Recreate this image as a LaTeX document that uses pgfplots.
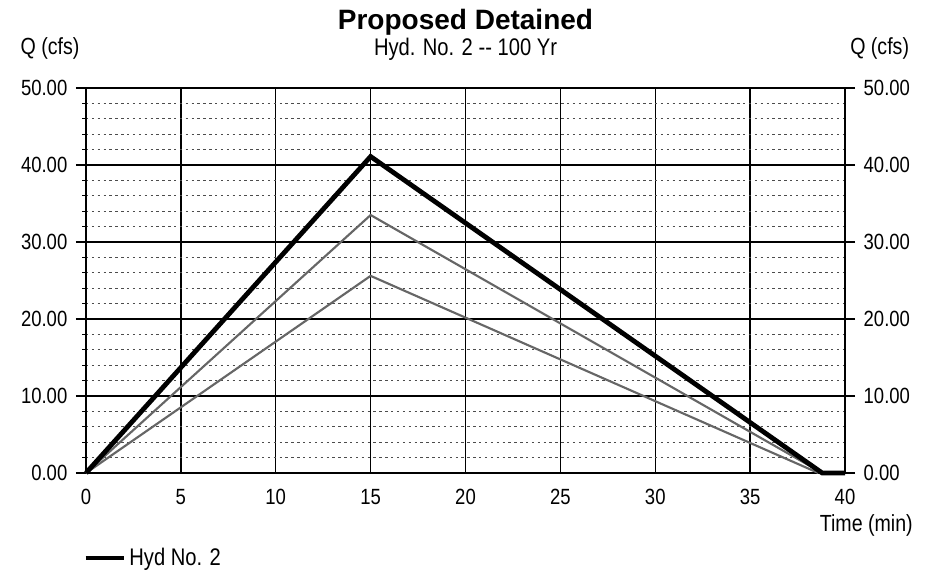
\documentclass[border=0pt]{standalone}
\usepackage{fontspec}
\setmainfont{Liberation Sans}[FakeStretch=0.84]
\newfontfamily\titlefont{Liberation Sans}
\usepackage{pgfplots}
\pgfplotsset{compat=1.18}
\begin{document}
\begin{tikzpicture}
\useasboundingbox (-64.5pt,-75.75pt) rectangle (633pt,354.75pt);
\pgfplotsset{
  common/.style={
    at={(0pt,0pt)}, anchor=south west,
    scale only axis, width=569.25pt, height=288.75pt,
    xmin=0, xmax=40, ymin=0, ymax=50,
    ytick={0,10,...,50},
    /pgf/number format/assume math mode=true,
    tick label style={font=\fontsize{16.5}{19}\selectfont},
  }
}
\begin{axis}[common,
  xtick={0,5,...,40},
  xticklabel style={yshift=-1pt},
  x tick style={draw=none},
  yticklabel={\pgfmathprintnumber[fixed,fixed zerofill,precision=2,assume math mode=true]{\tick}},
  yticklabel style={xshift=-3pt},
  tick align=outside,
  major tick length=7.5pt,
  y tick style={line width=1pt, black},
  minor y tick num=4,
  grid=both,
  major grid style={line width=1pt, black},
  minor grid style={line width=0.6pt, black!70, dash pattern=on 1.8pt off 2.6pt},
  axis line style={line width=1pt},
  ytick pos=left,
  legend style={at={(-0.004,-0.221)}, anchor=west, draw=none, fill=none,
    font=\fontsize{18}{20}\selectfont, inner sep=0pt},
  legend image code/.code={\draw[#1] (0pt,0pt) -- (29pt,0pt);},
  clip=false,
]
\addplot[black!60, line width=1.6pt, forget plot] coordinates {(0,0) (15,25.6) (38.6,0)};
\addplot[black!60, line width=1.6pt, forget plot] coordinates {(0,0) (15,33.5) (38.8,0)};
\addplot[black, line width=3.6pt] coordinates {(0,0) (15,41.1) (38.8,0) (40,0)};
\addlegendentry{Hyd No. 2}
\node[font=\titlefont\bfseries\fontsize{21}{24}\selectfont] at (rel axis cs:0.5,1) [yshift=49pt] {Proposed Detained};
\node[font=\fontsize{18}{20}\selectfont] at (rel axis cs:0.5,1) [yshift=29pt] {Hyd. No. 2 -{}- 100 Yr};
\node[font=\fontsize{17.5}{20}\selectfont] at (rel axis cs:0,1) [xshift=-27pt, yshift=30pt] {Q (cfs)};
\node[font=\fontsize{17.5}{20}\selectfont] at (rel axis cs:1,1) [xshift=26pt, yshift=30pt] {Q (cfs)};
\node[font=\fontsize{17.5}{20}\selectfont] at (rel axis cs:1,0) [xshift=16pt, yshift=-39pt] {Time (min)};
\end{axis}
\begin{axis}[common,
  axis x line=none,
  axis y line*=right,
  yticklabel={\pgfmathprintnumber[fixed,fixed zerofill,precision=2,assume math mode=true]{\tick}},
  yticklabel style={xshift=3pt},
  tick align=outside,
  major tick length=7.5pt,
  y tick style={line width=1pt, black},
  axis line style={line width=1pt, -},
]
\addplot[draw=none] coordinates {(0,0)};
\end{axis}
\end{tikzpicture}
\end{document}
